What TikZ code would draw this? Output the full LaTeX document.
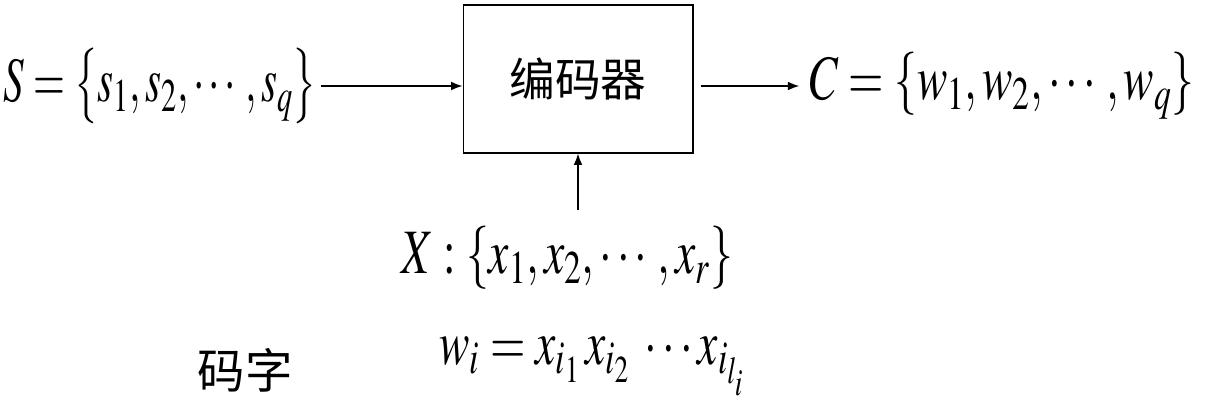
\documentclass[tikz,border=0pt]{standalone}
\usepackage{amsmath, amssymb}
\usepackage{mathptmx}
\usepackage{fontspec}
\newfontfamily\cjk{Noto Sans CJK SC}
\usepackage{tikz}
\usetikzlibrary{positioning, arrows.meta}

\begin{document}
\begin{tikzpicture}[x=0.02cm, y=-0.02cm, >={Latex[length=6.5pt,width=5pt]}]
            \useasboundingbox (0,0) rectangle (1210,403);
            \tikzset{formula/.style={font=\fontsize{36}{40}\selectfont, inner sep=0pt,
                     xscale=0.72, transform shape}}
            % Encoder box
            \node[draw, line width=0.6pt, minimum width=4.6cm, minimum height=2.96cm,
                  font=\cjk\fontsize{26}{30}\selectfont] (enc) at (578,79) {编码器};
            % Source alphabet on the left
            \node[formula, xscale=0.9] (src) at (160,86) {$S=\bigl\{s_1,s_2,\cdots,s_q\bigr\}$};
            % Code alphabet on the right
            \node[formula] (code) at (1002,86) {$C=\{w_1,w_2,\cdots,w_q\}$};
            % Channel symbols below
            \node[formula] (sym) at (567,258) {$X:\{x_1,x_2,\cdots,x_r\}$};
            % Codeword line
            \node[font=\cjk\fontsize{27}{30}\selectfont, inner sep=0pt] (lbl) at (245,370) {码字};
            \node[formula] (word) at (592,366) {$w_i=x_{i_1}\,x_{i_2}\;\cdots x_{i_{l_i}}$};
            % Arrows
            \draw[->, line width=0.8pt] ([xshift=0.08cm]src.east) -- (enc.west |- src.east);
            \draw[->, line width=0.8pt] ([xshift=0.14cm]enc.east |- code.west) -- ([xshift=-0.2cm]code.west);
            \draw[->, line width=0.8pt] (enc.south |- sym.north) ++(0,-16) -- (enc.south);
          \end{tikzpicture}
\end{document}
